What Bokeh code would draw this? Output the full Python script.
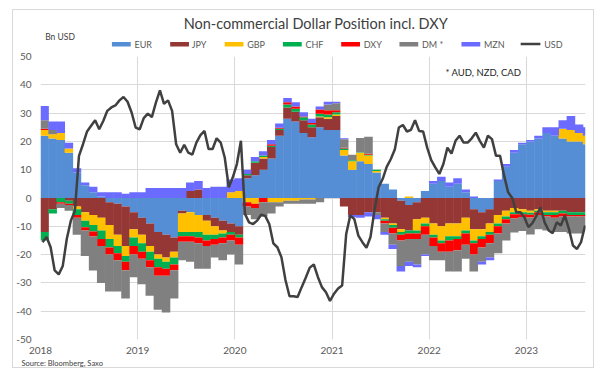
import numpy as np
from bokeh.plotting import figure
from bokeh.layouts import column
from bokeh.models import Range1d, FixedTicker, Label, Title
from bokeh.embed import file_html
from bokeh.resources import INLINE

# ---------------- data (monthly, Jan 2018 .. Aug 2023), bn USD ----------------
start_year = 2018
eur = [22, 21, 20.5, 16, 9, 4.5, 2, 0.5, -1.5, -2, -3, -5, -7, -9, -12, -13, -14, -4.5, -5, -6,
       -6, -7, -8, -9, -10, 7, 8, 10, 14, 22, 28, 27, 23, 21.5, 25, 24, 24, 15, 10, 13,
       12, 9, 5, 3, -1, -2.5, -1.5, 2.5, 5, 6, 4, 5, 2, -4, -5, -4, 6, 11, 16, 19,
       20, 21, 23, 22, 21, 20, 20, 19]
jpy = [-12, -4, 0, -1, -3, -5, -6, -7, -8, -11, -14, -6, -6, -8, -8, -8, -5, -1, 2.5, 3,
       -2, -3, -3.5, -3, -3, 1, 4.5, 4, 4, 2, 4, 3.5, 4.5, 3.5, 3.5, 4, 5, -3, -6, -6,
       -5, -5, -7, -9, -10, -9, -6, -7, -9, -10, -9, -9, -7, -7, -6, -5, -6, -4.5, -3.5, -4,
       -4.5, -4, -4.5, -4.5, -4.5, -5, -5, -5]
gbp = [2, 1.5, 2.5, 1.5, -1, -3, -3.5, -4.5, -5, -4, -3.5, -3, -3, -2, -1.5, -1.5, -2, -6.5, -7, -6,
       -5, -3, -1, 2, 2.5, -1.5, -2, 0.5, -1.5, -1.5, -1, -1, -0.5, -0.5, 0.3, 0.5, 0.5, 2, 3, 3,
       3, 0.5, -0.5, -0.5, -1, 0.5, -4, -2, -4, -5, -4.5, -4.5, -4.5, -4, -2.5, -3, -3, -2, -1.5, -1,
       -0.7, -0.5, -0.5, -0.5, 3.5, 4, 3, 3]
chf = [-3, -1.5, -1.5, -1, -2, -2.3, -2.3, -3, -3, -2.5, -2, -3, -3, -3, -3, -2.5, -2.5, -1.5, -1.5, -2,
       -2, -1.5, -1.5, -1, -1, 0.5, 0.5, 0.5, 0.5, 0.5, 1, 1, 1, 1, 1, 1, 0.8, 0.5, 0.3, 0.2,
       0.3, 0.5, -0.5, -1, -1, -1, -1, -1, -1, -1, -1.5, -1, -1, -1, -1, -1, -1, -1, -0.7, -0.7,
       -0.7, -0.5, -1, -1, -1, -1, -1, -1]
dxy = [0.5, 0, -0.5, -0.5, -1, -1.2, -1.8, -2.5, -2.5, -2.5, -3, -3, -2.5, -2.5, -3, -2.5, -2, -2, -2, -2,
       -2, -2, -2, -2, -2.5, -1.5, -1.5, -1.5, 0.5, 0.3, 0.8, 0.8, 0.3, 0.5, 1.5, 1.5, 0.7, 0.3, 0, 0,
       0.3, 0, -1, -2, -2, -2, -2, -3, -3, -3, -4, -4, -4, -4, -3, -3, -2.5, -1.5, -1.5, -1,
       -1, -1, -0.5, -1, -1, -0.5, -0.5, -0.5]
dm = [3, 1.5, -1.5, -2, -6, -9, -12, -13, -13, -11, -10, -8, -9, -10, -12, -13, -10, -6.5, -7, -9,
      -8, -4.5, -6, -5, -7, -3, -4, -5, -4, -1.5, -1, -1, -1.5, -1.5, -1.5, 2, 2.5, 3, 2, 5,
      6, -1, -3, -4, -9, -8, -9, -7, -5, -3, -7, -7.5, -5, -6, -5, -5, -7, -6, -5, -5,
      -6, -5, -5, -5, -5.5, -6, -6, -5]
mzn = [5, 3, 4, 2, 1.5, 1, 2, 1.5, 2, 2, 1.5, 2, 2, 3.5, 3.5, 3.5, 3.5, 3.5, 3, 3,
       3.5, 4, 4, 4.5, 4.5, 1.5, 1.5, 1.5, 1.5, 1.5, 1.5, 1.5, 1.5, 1.5, 1, 1, 0.5, 0.3, -0.8, -1,
       -1.5, -1.5, -1, -1.5, -2, -1.5, -1, -0.5, 1, 1.5, 1.5, 2, 1, 0.5, -1, -1, 0.5, 1, 1, 0.5,
       0.5, 1, 2, 3, 3, 5, 3, 3]
# USD net position, half-monthly readings (mid-Jan 2018 ... early Aug 2023)
usd = [-15.6, -13.8, -17.4, -25.6, -27, -24, -14.4, -8, -4.5, 14.9, 19, 23.5, 25.5, 27.5, 24.3, 27.2,
       30.8, 32, 32.7, 34.5, 35.7, 34, 30.2, 24.9, 24.3, 28.2, 29.8, 28.6, 33.7, 38, 33.3, 34.5,
       30.8, 19, 16, 18.8, 16, 15.3, 19.6, 22.2, 23.7, 17.3, 17.3, 21.1, 19.6, 14.3, 3.8, 7.3,
       12, 20.2, -5.6, -8.6, -9.2, -8, -5.9, -6.3, -9.2, -16, -17.4, -20.9, -29, -34.7, -34.7, -35,
       -31.5, -28.2, -24.6, -23.5, -27.9, -31.5, -33.3, -36.4, -33.8, -32, -30.9, -12.7, -6.2, -7.4,
       -13.3, -15.6, -17.6, -13.8, -4.2, 3.8, 6.7, 11, 13.7, 17.1, 24.9, 25.8, 23.5, 24.1, 27.5,
       23.7, 23.5, 17.8, 13.4, 10.8, 8.5, 12, 17.8, 15.7, 20.2, 22, 19.6, 19.6, 21.1, 23.1, 20.2,
       17.8, 22, 20.8, 14.9, 14.9, 7.9, 2, 0, -5, -5, -6.8, -10.3, -8.9, -6.2, -3.3, -8.6, -11.5,
       -12.4, -8.6, -9.7, -6.2, -10.9, -16.8, -18, -15.6, -9.7]

series_names = ["EUR", "JPY", "GBP", "CHF", "DXY", "DM *", "MZN"]
series_values = [eur, jpy, gbp, chf, dxy, dm, mzn]
colors = ["#558ED5", "#953735", "#FFC000", "#00B050", "#FF0000", "#808080", "#6B6BFF"]
usd_name = "USD"
usd_color = "#404040"

year_ticks = [2018, 2019, 2020, 2021, 2022, 2023]
year_labels = ["2018", "2019", "2020", "2021", "2022", "2023"]
y_ticks = [-50, -40, -30, -20, -10, 0, 10, 20, 30, 40, 50]
y_labels = ["-50", "-40", "-30", "-20", "-10", "0", "10", "20", "30", "40", "50"]

title_text = "Non-commercial Dollar Position incl. DXY"
unit_text = "Bn USD"
note_text = "* AUD, NZD, CAD"
source_text = "Source: Bloomberg, Saxo"

FONT = "Lato"
GREY = "#595959"

# layout (page pixels): outer box 12..594 x 9..368, inner content starts at (13, 10)
X0, Y0, W = 13, 10, 580
HEAD_H = 40
MAIN_H = 317

# ---------------- header (title, unit, legend keys) ----------------
head = figure(width=W, height=HEAD_H, x_range=Range1d(X0, X0 + W), y_range=Range1d(Y0 + HEAD_H, Y0),
              x_axis_type=None, y_axis_type=None, output_backend="svg", toolbar_location=None,
              min_border=0)
head.outline_line_color = None
head.add_layout(Label(x=306, y=23, text=title_text, text_align="center", text_baseline="middle",
                      text_font=FONT, text_font_size="14.5px", text_color="#404040"))
head.add_layout(Label(x=18, y=36, text=unit_text, text_align="left", text_baseline="middle",
                      text_font=FONT, text_font_size="8.5px", text_color="#404040"))

key_left = [89, 151, 209, 271, 333, 395, 461]
key_text_x = [113, 174, 233, 295, 357, 419, 485]
key_w, key_top, key_bot, key_mid = 20, 41.5, 46, 43.6
head.quad(left=key_left, right=[k + key_w for k in key_left], top=[key_top] * 7, bottom=[key_bot] * 7,
          fill_color=colors, line_color=None)
head.line(x=[524, 545], y=[key_mid, key_mid], line_color=usd_color, line_width=2.5)
for tx, lab in zip(key_text_x + [549], series_names + [usd_name]):
    head.add_layout(Label(x=tx, y=key_mid, text=lab, text_align="left", text_baseline="middle",
                          text_font=FONT, text_font_size="9px", text_color=GREY))

# ---------------- main chart ----------------
x_end = start_year + 67.3 / 12
p = figure(width=W, height=MAIN_H, x_range=Range1d(start_year, x_end), y_range=Range1d(-50, 50),
           output_backend="svg", toolbar_location=None,
           min_border_left=27, min_border_right=8, min_border_top=6, min_border_bottom=27)
p.outline_line_color = None

n = len(eur)
mid = start_year + (np.arange(n) + 0.5) / 12
bw = 1.06 / 12
pos_base = np.zeros(n)
neg_base = np.zeros(n)
for vals, color in zip(series_values, colors):
    v = np.array(vals, dtype=float)
    pv = np.clip(v, 0, None)
    nv = np.clip(v, None, 0)
    p.vbar(x=mid, width=bw, bottom=pos_base.copy(), top=pos_base + pv, fill_color=color, line_color=None)
    p.vbar(x=mid, width=bw, bottom=neg_base + nv, top=neg_base.copy(), fill_color=color, line_color=None)
    pos_base = pos_base + pv
    neg_base = neg_base + nv

t_usd = start_year + (0.25 + 0.5 * np.arange(len(usd))) / 12
p.line(t_usd, usd, line_color=usd_color, line_width=2.5)

p.xaxis.ticker = FixedTicker(ticks=year_ticks)
p.xaxis.major_label_overrides = {t: l for t, l in zip(year_ticks, year_labels)}
p.yaxis.ticker = FixedTicker(ticks=y_ticks)
p.yaxis.major_label_overrides = {t: l for t, l in zip(y_ticks, y_labels)}
for ax in (p.xaxis, p.yaxis):
    ax.axis_line_color = None
    ax.major_tick_line_color = None
    ax.minor_tick_line_color = None
    ax.major_tick_out = 0
    ax.major_tick_in = 0
    ax.minor_tick_out = 0
    ax.major_label_text_font = FONT
    ax.major_label_text_font_size = "10px"
    ax.major_label_text_color = GREY
p.xaxis.major_label_standoff = 7
p.yaxis.major_label_standoff = 9
p.xgrid.ticker = FixedTicker(ticks=year_ticks)
p.ygrid.ticker = FixedTicker(ticks=y_ticks)
p.xgrid.grid_line_color = "#D9D9D9"
p.ygrid.grid_line_color = "#D9D9D9"

p.add_layout(Label(x=2022.167, y=44.2, text=note_text, text_align="left", text_baseline="middle",
                   text_font=FONT, text_font_size="9.5px", text_color="#262626"))
p.add_layout(Title(text=source_text, align="left", offset=-19, standoff=0,
                   text_font=FONT, text_font_size="7.5px", text_font_style="normal",
                   text_color="#404040"), "below")

layout = column(head, p, spacing=0, margin=(9, 0, 0, 12),
                styles={"border": "1px solid #D9D9D9"})
open("out.html", "w").write(file_html(layout, INLINE))
